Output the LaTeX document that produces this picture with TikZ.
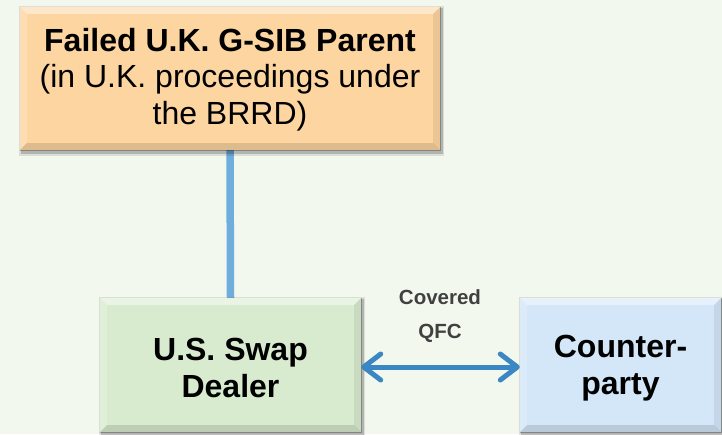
\documentclass[tikz,border=0pt]{standalone}
\usepackage{fontspec}
\setmainfont{Liberation Sans}
\usetikzlibrary{arrows.meta}
\definecolor{bgc}{HTML}{F3F8EF}
\definecolor{orF}{HTML}{FDD5A0}
\definecolor{grF}{HTML}{D8EBCF}
\definecolor{blF}{HTML}{D3E7F9}
\definecolor{lnC}{HTML}{6EADDC}
\definecolor{arC}{HTML}{3A87C4}
\definecolor{lbC}{HTML}{404040}
\newcommand\mybevel[2]{%
  \fill[black,opacity=0.10] ([shift={(-1,-6)}]#1.south west) rectangle ([shift={(4,1)}]#1.north east);
  \fill[black,opacity=0.18] ([shift={(1,-4)}]#1.south west) rectangle ([shift={(3,-1)}]#1.north east);
  \fill[#2] (#1.south west) rectangle (#1.north east);
  \fill[white,opacity=0.45] (#1.north west) -- (#1.north east) -- ([shift={(-7,-7)}]#1.north east) -- ([shift={(7,-7)}]#1.north west) -- cycle;
  \fill[white,opacity=0.2] (#1.north west) -- ([shift={(7,-7)}]#1.north west) -- ([shift={(7,7)}]#1.south west) -- (#1.south west) -- cycle;
  \fill[black,opacity=0.12] (#1.south west) -- (#1.south east) -- ([shift={(-7,7)}]#1.south east) -- ([shift={(7,7)}]#1.south west) -- cycle;
  \fill[black,opacity=0.07] (#1.north east) -- ([shift={(-7,-7)}]#1.north east) -- ([shift={(-7,7)}]#1.south east) -- (#1.south east) -- cycle;
  \draw[black,opacity=0.25,line width=0.8] (#1.south west) -- (#1.south east) -- (#1.north east);
}
\tikzset{
  boxnode/.style={rectangle,inner sep=0pt},
  bigtext/.style={align=center,font=\fontsize{32}{36.5}\selectfont},
  lbl/.style={font=\fontsize{20.5}{34}\selectfont\bfseries,text=lbC,align=center},
}
\begin{document}
\begin{tikzpicture}[x=1pt,y=1pt]
\fill[bgc] (0,0) rectangle (722,434);
\useasboundingbox (0,0) rectangle (722,434);
\clip (0,0) rectangle (722,434);
% box frames
\node[boxnode,minimum width=420pt,minimum height=143pt] (parent) at (230,355.5) {};
\node[boxnode,minimum width=261pt,minimum height=134pt] (dealer) at (230.5,69) {};
\node[boxnode,minimum width=201pt,minimum height=134pt] (cp) at (620.5,69) {};
% connector parent - dealer
\draw[lnC,line width=7.5pt] (parent.south) -- (dealer.north);
\mybevel{parent}{orF}
\mybevel{dealer}{grF}
\mybevel{cp}{blF}
% texts
\node[bigtext] (ptext) at ([yshift=-1]parent.center) {\textbf{Failed U.K. G-SIB Parent}\\(in U.K. proceedings under\\the BRRD)};
\node[bigtext,font=\fontsize{32}{36.5}\selectfont\bfseries] (dtext) at ([yshift=-3]dealer.center) {U.S. Swap\\Dealer};
\node[bigtext,font=\fontsize{32}{36.5}\selectfont\bfseries] (ctext) at ([yshift=-3]cp.center) {Counter-\\party};
% QFC arrow
\draw[arC,line width=5pt,{Straight Barb[length=17pt,width=26pt,round]}-{Straight Barb[length=17pt,width=26pt,round]}] ([yshift=-2]dealer.east) -- ([yshift=-2]cp.west);
\node[lbl] (qfc) at (440,118) {Covered\\QFC};
\end{tikzpicture}
\end{document}
